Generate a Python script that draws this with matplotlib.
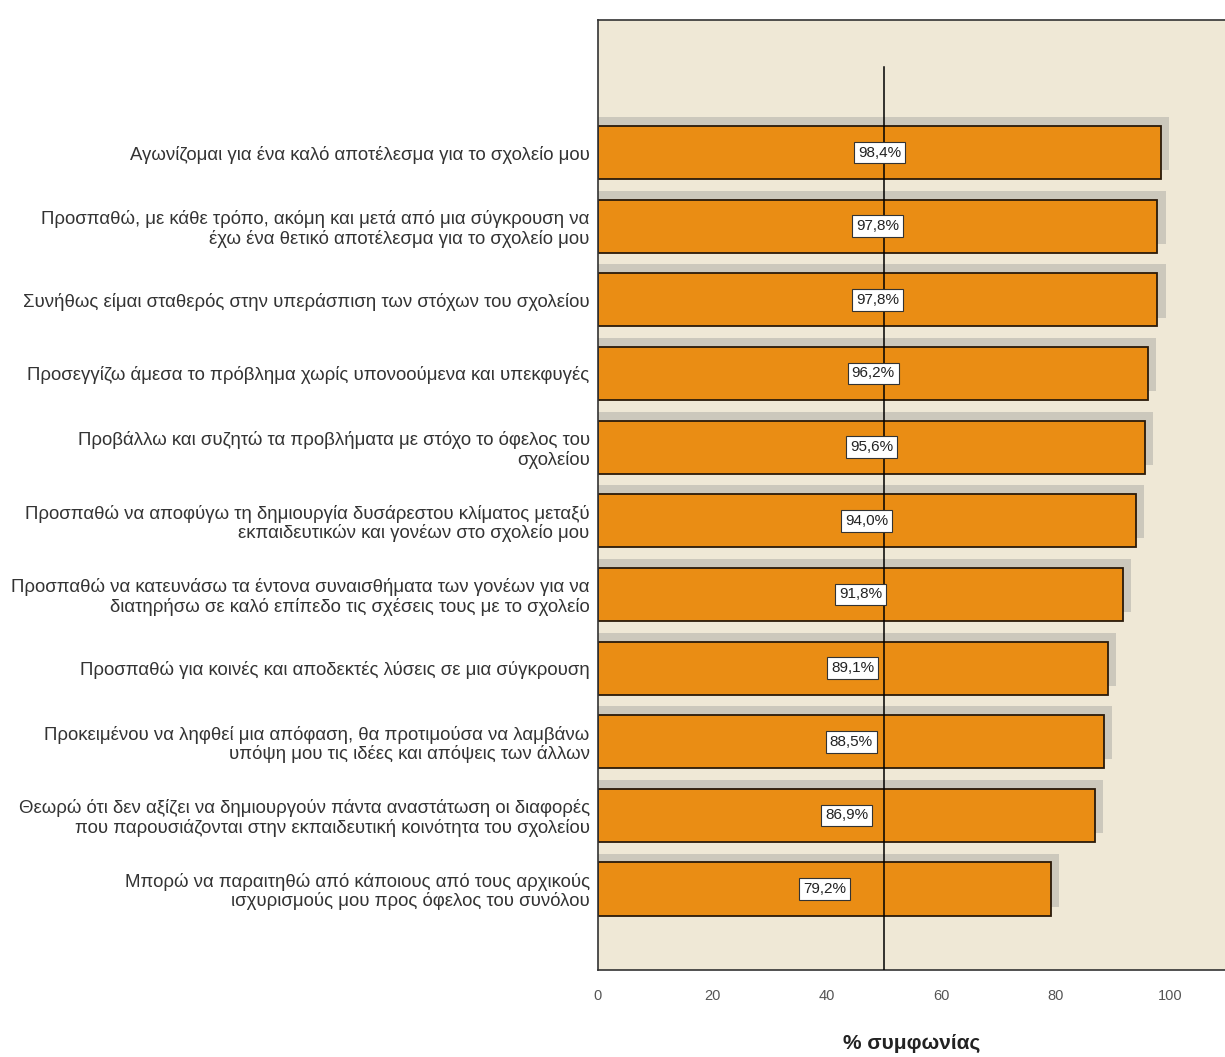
import matplotlib
matplotlib.use("Agg")
import matplotlib.pyplot as plt

categories = [
    "Αγωνίζομαι για ένα καλό αποτέλεσμα για το σχολείο μου",
    "Προσπαθώ, με κάθε τρόπο, ακόμη και μετά από μια σύγκρουση να\nέχω ένα θετικό αποτέλεσμα για το σχολείο μου",
    "Συνήθως είμαι σταθερός στην υπεράσπιση των στόχων του σχολείου",
    "Προσεγγίζω άμεσα το πρόβλημα χωρίς υπονοούμενα και υπεκφυγές",
    "Προβάλλω και συζητώ τα προβλήματα με στόχο το όφελος του\nσχολείου",
    "Προσπαθώ να αποφύγω τη δημιουργία δυσάρεστου κλίματος μεταξύ\nεκπαιδευτικών και γονέων στο σχολείο μου",
    "Προσπαθώ να κατευνάσω τα έντονα συναισθήματα των γονέων για να\nδιατηρήσω σε καλό επίπεδο τις σχέσεις τους με το σχολείο",
    "Προσπαθώ για κοινές και αποδεκτές λύσεις σε μια σύγκρουση",
    "Προκειμένου να ληφθεί μια απόφαση, θα προτιμούσα να λαμβάνω\nυπόψη μου τις ιδέες και απόψεις των άλλων",
    "Θεωρώ ότι δεν αξίζει να δημιουργούν πάντα αναστάτωση οι διαφορές\nπου παρουσιάζονται στην εκπαιδευτική κοινότητα του σχολείου",
    "Μπορώ να παραιτηθώ από κάποιους από τους αρχικούς\nισχυρισμούς μου προς όφελος του συνόλου",
]
values = [98.4, 97.8, 97.8, 96.2, 95.6, 94.0, 91.8, 89.1, 88.5, 86.9, 79.2]
value_labels = ["98,4%", "97,8%", "97,8%", "96,2%", "95,6%", "94,0%",
                "91,8%", "89,1%", "88,5%", "86,9%", "79,2%"]
xticks = [0, 20, 40, 60, 80, 100]
reference_line = 50

plt.rcParams['font.family'] = ['Liberation Sans', 'DejaVu Sans']

fig = plt.figure(figsize=(12.25, 10.57), dpi=100)
fig.patch.set_facecolor('white')
ax = fig.add_axes([598/1225, 1 - 970/1057, 1 - 598/1225, (970 - 20)/1057])
ax.set_facecolor('#EFE8D6')

ypos = list(range(len(values)))
# shadow bars
ax.barh([y - 0.12 for y in ypos], [v + 1.4 for v in values], height=0.72,
        color='#C4C0B6', edgecolor='none', zorder=1, alpha=0.8)
ax.barh(ypos, values, height=0.72, color='#EA8D14', edgecolor='#2a1a0a',
        linewidth=1.3, zorder=2)

ax.axvline(reference_line, color='black', linewidth=1.1, zorder=3,
           ymin=0, ymax=(970 - 67) / 950)

for y, v, lab in zip(ypos, values, value_labels):
    ax.text(v / 2, y, lab, ha='center', va='center', fontsize=11,
            color='#222222', zorder=4,
            bbox=dict(boxstyle='square,pad=0.25', facecolor='white',
                      edgecolor='#333333', linewidth=0.8))

ax.set_xlim(0, 109.6)
ax.set_ylim(len(values) - 1 + 1.1, -1.8)
ax.set_xticks(xticks)
ax.set_xticklabels([str(t) for t in xticks], fontsize=10.5, color='#555555')
ax.set_yticks(ypos)
ax.set_yticklabels(categories, fontsize=13.4, color='#333333')
for t in ax.get_yticklabels():
    t.set_linespacing(1.1)
ax.tick_params(axis='both', length=0, pad=6)
ax.tick_params(axis='x', pad=14)
for s in ['right']:
    ax.spines[s].set_visible(False)
for s in ['left', 'top', 'bottom']:
    ax.spines[s].set_color('#333333')
    ax.spines[s].set_linewidth(1.2)

ax.set_xlabel('% συμφωνίας', fontsize=15, fontweight='bold', color='#222222',
              labelpad=22)

fig.savefig('out.png', dpi=100, facecolor='white')
